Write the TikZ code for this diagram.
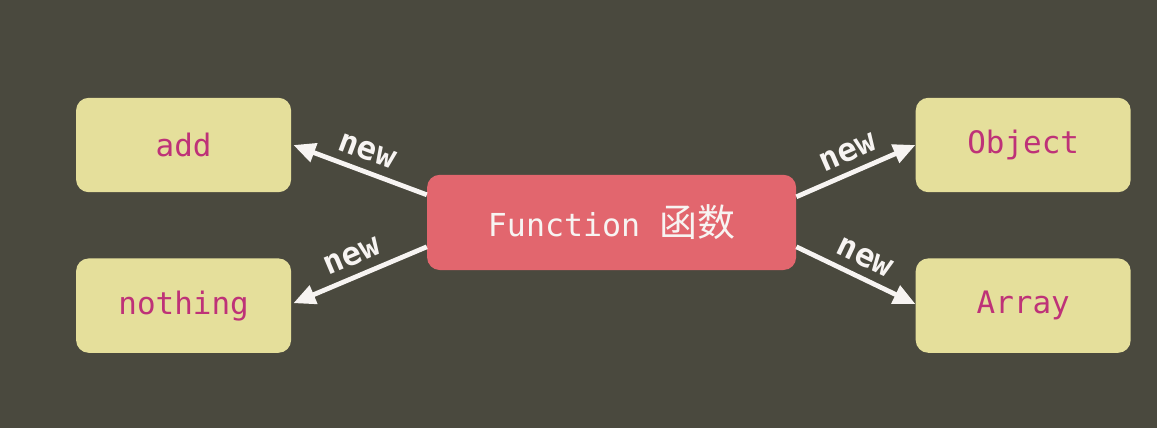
\documentclass[tikz,border=0pt]{standalone}
\usepackage{fontspec}
\setmonofont{DejaVu Sans Mono}
\newfontfamily\cjk{Noto Sans CJK SC}
\usetikzlibrary{arrows.meta,positioning}
\definecolor{board}{HTML}{4A493E}
\definecolor{sand}{HTML}{E5DF9B}
\definecolor{rose}{HTML}{E2666E}
\definecolor{plum}{HTML}{BE3278}
\definecolor{chalk}{HTML}{F7F4F2}
\tikzset{
  inst/.style={fill=sand,rounded corners=9pt,minimum width=5.375cm,minimum height=2.36cm,
               text=plum,font=\ttfamily\fontsize{22}{26}\selectfont},
  ctor/.style={fill=rose,rounded corners=9pt,minimum width=9.225cm,minimum height=2.38cm,
               text=chalk,font=\ttfamily\fontsize{22.5}{26}\selectfont},
  mk/.style={-{Triangle[length=5.5mm,width=4.8mm]},line width=3.4pt,draw=chalk},
  kw/.style={font=\ttfamily\bfseries\fontsize{23}{26}\selectfont,text=chalk,sloped,above,inner sep=6pt},
}

\begin{document}
\begin{tikzpicture}
  \useasboundingbox[fill=board] (0,0) rectangle (28.925,-10.7);
  \node[ctor] (fun)  at (15.29,-5.56) {Function {\cjk\fontsize{27}{30}\selectfont 函数}};
  \node[inst] (add)  at (4.59,-3.625)  {add};
  \node[inst] (none) at (4.59,-7.64)   {nothing};
  \node[inst] (obj)  at (25.58,-3.625) {Object};
  \node[inst] (arr)  at (25.58,-7.64)  {Array};
  \draw[mk] ([yshift=0.69cm]fun.west) -- node[kw]{new} ([xshift=0.05cm]add.east);
  \draw[mk] ([yshift=-0.61cm]fun.west) -- node[kw]{new} ([xshift=0.05cm,yshift=0.06cm]none.east);
  \draw[mk] ([yshift=0.64cm]fun.east) -- node[kw]{new} (obj.west);
  \draw[mk] ([yshift=-0.61cm]fun.east) -- node[kw]{new} ([yshift=0.04cm]arr.west);
\end{tikzpicture}
\end{document}
